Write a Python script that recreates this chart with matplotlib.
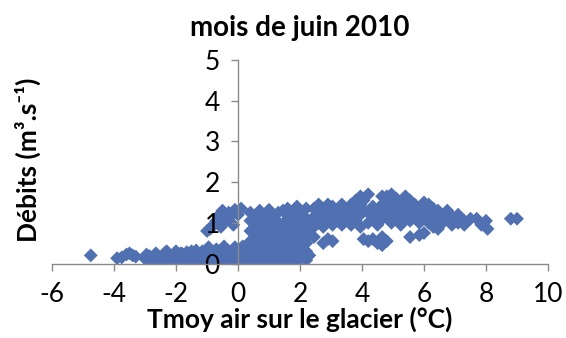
#!/usr/bin/env python3

# +
# import(s)
# -
import matplotlib
matplotlib.use('Agg')
import matplotlib.pyplot as plt

# +
# data: discharge vs mean air temperature over the glacier (June 2010)
# -
tmoy = [
    -4.75, -3.9, -3.75, -3.6, -3.5, -3.4, -3.3,
    -3.0, -2.9, -2.85, -2.7, -2.6, -2.55, -2.45, -2.35, -2.3, -2.25, -2.1, -2.0, -1.95, -1.9,
    -1.8, -1.7, -1.6, -1.5, -1.4, -1.35, -1.3, -1.2, -1.1, -1.0,
    -2.95, -2.8, -2.65, -2.5, -2.4, -2.2, -2.05, -1.85, -1.75, -1.65, -1.55, -1.45, -1.25, -1.15,
    -0.95, -0.85, -0.8, -0.7, -0.6, -0.55, -0.45, -0.4, -0.3, -0.2, -0.15, -0.1, 0.0, 0.05,
    0.15, 0.2, 0.25, 0.35, -0.9, -0.65, -0.35, -0.05, 0.1, 0.3,
    -1.0, -0.9, -0.8, -0.7, -0.6, -0.5, -0.4, -0.3, -0.2, -0.1, 0.0, -0.15, 0.1, -0.55,
    0.4, 0.4, 0.4, 0.4, 0.4, 0.4,
    0.55, 0.55, 0.55, 0.55, 0.55,
    0.7, 0.7, 0.7, 0.7, 0.7, 0.7,
    0.85, 0.85, 0.85, 0.85, 0.85,
    1.0, 1.0, 1.0, 1.0, 1.0, 1.0,
    1.15, 1.15, 1.15, 1.15, 1.15,
    1.3, 1.3, 1.3, 1.3, 1.3, 1.3,
    1.45, 1.45, 1.45, 1.45, 1.45,
    1.6, 1.6, 1.6, 1.6, 1.6, 1.6,
    1.75, 1.75, 1.75, 1.75, 1.75,
    1.9, 1.9, 1.9, 1.9, 1.9, 1.9,
    2.05, 2.05, 2.05, 2.05, 2.05,
    2.2, 2.2, 2.2, 2.2, 2.2, 2.2,
    2.3, 2.3, 2.3,
    2.45, 2.45, 2.45, 2.45,
    2.6, 2.6, 2.6,
    2.75, 2.75, 2.75, 2.75,
    2.9, 2.9, 2.9, 2.9,
    3.05, 3.05, 3.05, 3.05,
    3.2, 3.2,
    3.35, 3.35, 3.35,
    3.5, 3.5,
    3.65, 3.65, 3.65,
    3.8, 3.8, 3.8,
    3.95, 3.95, 3.95, 3.95,
    4.05, 4.05, 4.05,
    4.2, 4.2, 4.2, 4.2,
    4.35, 4.35, 4.35,
    4.5, 4.5, 4.5,
    4.65, 4.65, 4.65, 4.65, 4.65,
    4.8, 4.8, 4.8, 4.8,
    4.95, 4.95, 4.95, 4.95,
    5.1, 5.1, 5.1,
    5.25, 5.25, 5.25,
    5.4, 5.4, 5.4,
    5.55, 5.55, 5.55, 5.55,
    5.7, 5.7,
    5.85, 5.85, 5.85,
    6.0, 6.0, 6.0, 6.0,
    6.15, 6.15, 6.15,
    6.3, 6.3, 6.3,
    6.45, 6.45, 6.45,
    6.6, 6.6,
    6.75, 6.75,
    6.9, 6.9,
    7.1, 7.1,
    7.3, 7.3,
    7.5, 7.7, 7.85, 8.0, 8.05, 8.8, 9.0,
]

debit = [
    0.20, 0.13, 0.15, 0.22, 0.25, 0.20, 0.17,
    0.12, 0.05, 0.18, 0.10, 0.20, 0.05, 0.14, 0.27, 0.30, 0.08, 0.20, 0.30, 0.05, 0.12,
    0.24, 0.06, 0.18, 0.30, 0.12, 0.32, 0.22, 0.05, 0.28, 0.15,
    0.22, 0.10, 0.25, 0.12, 0.08, 0.15, 0.10, 0.25, 0.12, 0.28, 0.10, 0.22, 0.12, 0.30,
    0.40, 0.25, 0.10, 0.35, 0.05, 0.20, 0.42, 0.10, 0.30, 0.05, 0.20, 0.40, 0.10, 0.30,
    0.42, 0.05, 0.22, 0.35, 0.08, 0.28, 0.15, 0.25, 0.12, 0.05,
    0.80, 0.85, 0.95, 1.05, 1.20, 1.30, 1.05, 1.25, 1.20, 1.32, 1.20, 0.95, 1.35, 0.90,
    0.05, 0.30, 0.55, 0.80, 1.05, 1.25,
    0.15, 0.40, 0.65, 0.90, 1.15,
    0.05, 0.30, 0.55, 0.80, 1.00, 1.30,
    0.18, 0.42, 0.68, 0.92, 1.20,
    0.05, 0.30, 0.55, 0.80, 1.05, 1.32,
    0.15, 0.42, 0.65, 0.90, 1.20,
    0.05, 0.30, 0.55, 0.78, 1.00, 1.25,
    0.18, 0.42, 0.68, 0.92, 1.30,
    0.05, 0.30, 0.55, 0.80, 1.10, 1.35,
    0.15, 0.42, 0.65, 0.90, 1.20,
    0.05, 0.30, 0.55, 0.80, 1.05, 1.40,
    0.15, 0.40, 0.65, 0.95, 1.25,
    0.08, 0.30, 0.50, 0.85, 1.10, 1.35,
    0.20, 0.70, 1.00,
    0.65, 0.90, 1.15, 1.35,
    1.00, 1.25, 1.45,
    0.50, 0.90, 1.15, 1.35,
    0.60, 1.05, 1.30, 1.45,
    0.55, 0.95, 1.20, 1.40,
    1.05, 1.30,
    0.95, 1.20, 1.45,
    1.10, 1.35,
    0.95, 1.25, 1.45,
    1.05, 1.35, 1.55,
    0.90, 1.20, 1.45, 1.65,
    0.60, 1.30, 1.55,
    0.55, 1.00, 1.25, 1.70,
    0.60, 1.15, 1.40,
    0.50, 0.95, 1.30,
    0.45, 0.65, 1.10, 1.45, 1.65,
    0.55, 1.20, 1.40, 1.65,
    1.00, 1.30, 1.55, 1.70,
    1.10, 1.40, 1.60,
    0.95, 1.25, 1.50,
    1.15, 1.40, 1.65,
    0.65, 1.05, 1.30, 1.55,
    1.20, 1.45,
    0.70, 1.00, 1.30,
    0.75, 1.10, 1.35, 1.50,
    1.00, 1.25, 1.45,
    0.90, 1.15, 1.35,
    0.85, 1.05, 1.30,
    1.00, 1.20,
    1.10, 1.30,
    0.95, 1.15,
    1.00, 1.20,
    0.95, 1.05,
    1.10, 1.10, 0.95, 1.05, 0.85, 1.10, 1.10,
]

x_ticks = [-6, -4, -2, 0, 2, 4, 6, 8, 10]
y_ticks = [0, 1, 2, 3, 4, 5]

# +
# style
# -
plt.rcParams['font.family'] = ['Lato', 'DejaVu Sans']
plt.rcParams['axes.unicode_minus'] = False
AXIS_GREY = '#8a8a8a'
POINT_BLUE = '#5070b2'

fig = plt.figure(figsize=(5.66, 3.38), dpi=100)
ax = fig.add_axes([0.0919, 0.2204, 0.8763, 0.6021])

ax.scatter(tmoy, debit, marker='D', s=50, color=POINT_BLUE, edgecolors='none', zorder=1)

ax.set_xlim(-6, 10)
ax.set_ylim(0, 5)
ax.set_xticks(x_ticks)
ax.set_yticks(y_ticks)

# axes cross at the origin, like the spreadsheet chart
ax.spines['left'].set_position(('data', 0))
ax.spines['bottom'].set_position(('data', 0))
ax.spines['right'].set_visible(False)
ax.spines['top'].set_visible(False)
for _s in ('left', 'bottom'):
    ax.spines[_s].set_color(AXIS_GREY)
    ax.spines[_s].set_linewidth(1.0)

ax.tick_params(axis='x', direction='out', length=5, width=1, color=AXIS_GREY,
               labelsize=19, pad=8)
ax.tick_params(axis='y', direction='out', length=5, width=1, color=AXIS_GREY,
               labelsize=19, pad=8)

ax.set_title('mois de juin 2010', fontsize=20, fontweight='bold', pad=17)
ax.set_xlabel('Tmoy air sur le glacier (°C)', fontsize=19, fontweight='bold', labelpad=0)
fig.text(0.05, 0.527, 'Débits (m³.s⁻¹)', rotation=90, fontsize=19,
         fontweight='bold', ha='center', va='center')

fig.savefig('out.png', dpi=100)
